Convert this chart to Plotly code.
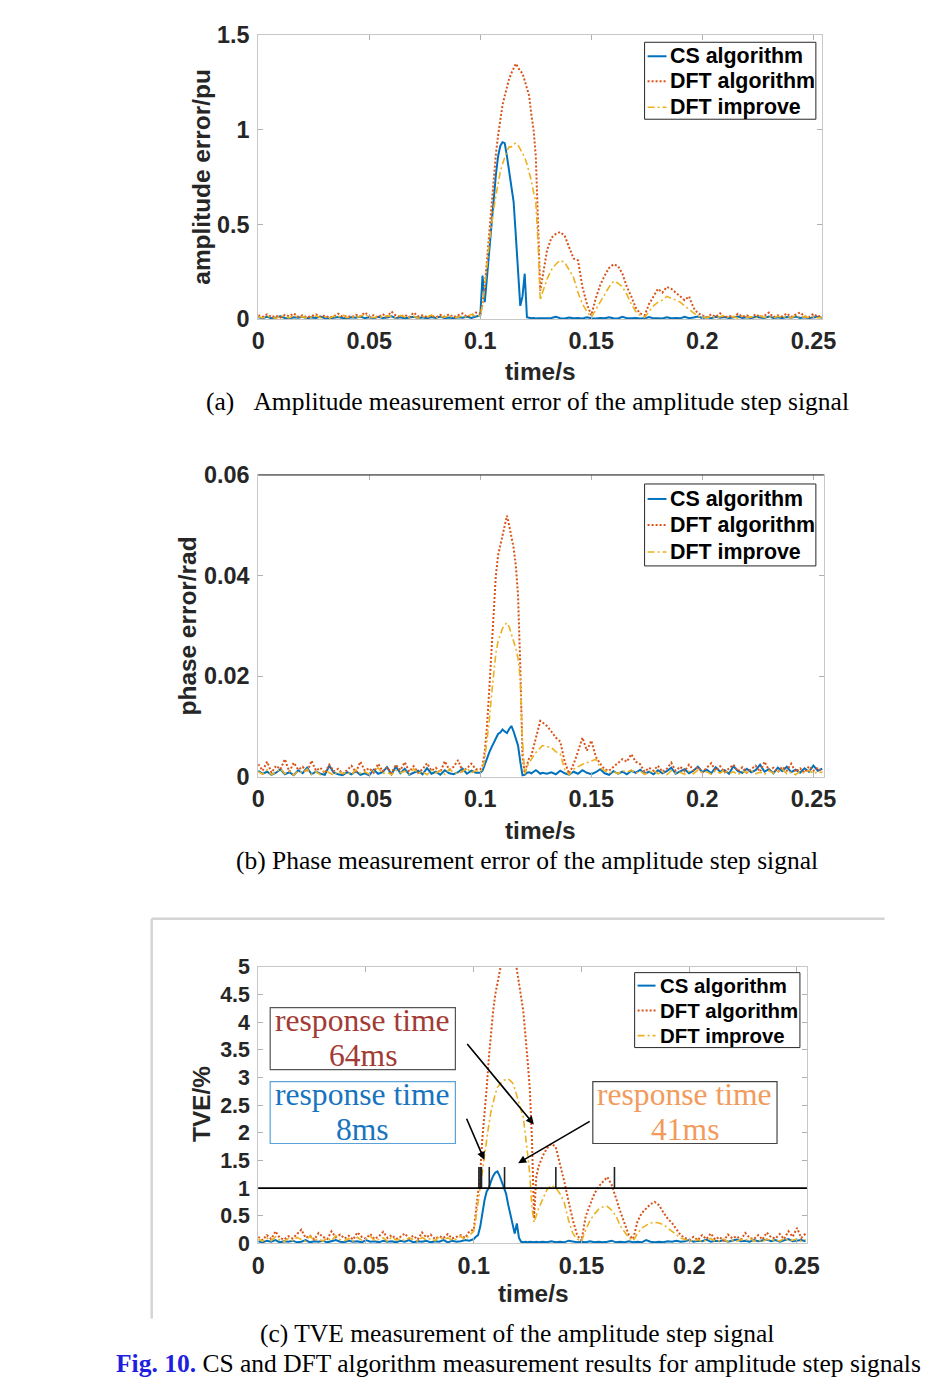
import plotly.graph_objects as go

# ---------------- time grid (s) ----------------
T = ([round(0.002 * i, 3) for i in range(50)] +
     [round(0.100 + 0.001 * i, 3) for i in range(30)] +
     [round(0.130 + 0.002 * i, 3) for i in range(63)])

# ---------------- (a) amplitude error / pu ----------------
amp_cs = [0.01,0.005,0.012,0.004,0.008,0.015,0.006,0.003,0.01,0.007,
          0.012,0.004,0.009,0.006,0.014,0.005,0.003,0.008,0.011,0.006,
          0.004,0.01,0.007,0.013,0.005,0.009,0.004,0.012,0.006,0.008,
          0.015,0.005,0.01,0.004,0.007,0.012,0.006,0.009,0.004,0.011,
          0.006,0.013,0.005,0.008,0.004,0.01,0.007,0.012,0.006,0.015,
          0.02,0.23,0.09,0.22,0.36,0.50,0.63,0.76,0.86,0.915,
          0.935,0.93,0.86,0.78,0.70,0.62,0.44,0.25,0.07,0.12,
          0.24,0.01,0.005,0.004,0.006,0.003,0.005,0.004,0.006,0.003,
          0.004,0.006,0.012,0.005,0.003,0.008,0.004,0.006,0.003,0.01,
          0.004,0.003,0.006,0.004,0.009,0.004,0.003,0.012,0.005,0.004,
          0.006,0.003,0.004,0.011,0.004,0.005,0.003,0.01,0.004,0.006,
          0.004,0.012,0.005,0.008,0.014,0.006,0.01,0.005,0.012,0.007,
          0.011,0.005,0.009,0.014,0.006,0.01,0.005,0.012,0.008,0.006,
          0.013,0.006,0.009,0.005,0.011,0.007,0.014,0.006,0.01,0.005,
          0.009,0.012,0.007]
amp_dft = [0.02,0.012,0.025,0.01,0.018,0.008,0.022,0.015,0.03,0.012,
           0.02,0.009,0.016,0.025,0.011,0.019,0.008,0.014,0.028,0.012,
           0.017,0.01,0.022,0.013,0.035,0.015,0.02,0.009,0.026,0.012,
           0.04,0.018,0.012,0.022,0.01,0.035,0.014,0.02,0.011,0.017,
           0.009,0.022,0.013,0.025,0.01,0.019,0.03,0.012,0.02,0.035,
           0.03,0.08,0.17,0.31,0.46,0.61,0.74,0.87,0.97,1.06,
           1.13,1.18,1.23,1.27,1.30,1.33,1.35,1.33,1.31,1.30,
           1.26,1.23,1.18,1.08,1.0,0.86,0.55,0.15,0.22,0.30,
           0.36,0.43,0.45,0.46,0.44,0.38,0.32,0.31,0.17,0.08,
           0.02,0.11,0.18,0.23,0.27,0.29,0.28,0.24,0.17,0.12,
           0.06,0.03,0.02,0.08,0.12,0.16,0.14,0.17,0.16,0.14,
           0.12,0.10,0.12,0.06,0.03,0.02,
           0.01,0.025,0.012,0.03,0.008,0.018,0.01,0.028,0.012,0.02,
           0.009,0.025,0.012,0.018,0.035,0.01,0.02,0.014,0.03,0.012,
           0.022,0.035,0.015,0.01,0.028,0.012,0.02]
amp_imp = [0.012,0.006,0.015,0.008,0.004,0.018,0.01,0.006,0.02,0.009,
           0.013,0.005,0.011,0.017,0.007,0.012,0.004,0.015,0.01,0.022,
           0.008,0.013,0.006,0.016,0.025,0.01,0.007,0.014,0.009,0.018,
           0.012,0.006,0.02,0.011,0.008,0.015,0.005,0.013,0.009,0.022,
           0.007,0.014,0.01,0.018,0.006,0.012,0.016,0.009,0.025,0.015,
           0.02,0.07,0.16,0.28,0.40,0.50,0.58,0.65,0.72,0.78,
           0.82,0.86,0.89,0.91,0.91,0.925,0.93,0.92,0.90,0.88,
           0.855,0.82,0.78,0.73,0.67,0.62,0.40,0.10,0.14,0.18,
           0.21,0.26,0.29,0.31,0.30,0.26,0.22,0.14,0.08,0.04,
           0.01,0.05,0.09,0.13,0.17,0.20,0.19,0.17,0.13,0.08,
           0.04,0.02,0.01,0.04,0.07,0.09,0.10,0.12,0.11,0.10,
           0.09,0.07,0.05,0.03,0.015,0.01,
           0.008,0.015,0.006,0.012,0.02,0.007,0.013,0.005,0.016,0.009,
           0.012,0.006,0.018,0.008,0.013,0.005,0.015,0.009,0.012,0.006,
           0.02,0.008,0.013,0.007,0.015,0.006,0.01]

# ---------------- (b) phase error / rad ----------------
ph_cs = [0.0012,0.0006,0.0010,0.0004,0.0008,0.0015,0.0005,0.0009,0.0003,0.0013,
         0.0007,0.0018,0.0005,0.0010,0.0006,0.0004,0.0022,0.0008,0.0005,0.0003,
         0.0009,0.0005,0.0011,0.0004,0.0007,0.0003,0.0014,0.0006,0.0009,0.0019,
         0.0005,0.0020,0.0007,0.0016,0.0004,0.0008,0.0012,0.0005,0.0017,0.0006,
         0.0010,0.0004,0.0013,0.0007,0.0005,0.0009,0.0016,0.0006,0.0012,0.0008,
         0.0008,0.0012,0.0025,0.0038,0.0048,0.0058,0.0068,0.0078,0.0085,0.0088,
         0.0094,0.0090,0.0087,0.0095,0.0101,0.0090,0.0076,0.0062,0.0030,0.0003,
         0.0004,0.0008,0.0009,0.0007,0.0010,0.0013,0.0010,0.0006,0.0008,0.0007,
         0.0006,0.0009,0.0005,0.0012,0.0007,0.0004,0.0010,0.0006,0.0013,0.0008,
         0.0005,0.0009,0.0015,0.0007,0.0004,0.0011,0.0006,0.0010,0.0005,0.0012,
         0.0008,0.0014,0.0006,0.0010,0.0005,0.0013,0.0007,0.0011,0.0018,0.0006,
         0.0010,0.0015,0.0007,0.0012,0.0020,0.0009,0.0014,0.0007,0.0019,0.0010,
         0.0013,0.0006,0.0021,0.0011,0.0008,0.0016,0.0009,0.0013,0.0024,0.0010,
         0.0015,0.0007,0.0018,0.0011,0.0020,0.0009,0.0014,0.0008,0.0017,0.0010,
         0.0022,0.0012,0.0016]
ph_dft = [0.0025,0.0012,0.0030,0.0008,0.0022,0.0015,0.0035,0.0010,0.0028,0.0014,
          0.0020,0.0009,0.0032,0.0012,0.0018,0.0007,0.0024,0.0011,0.0016,0.0006,
          0.0013,0.0022,0.0009,0.0030,0.0012,0.0017,0.0008,0.0026,0.0011,0.0019,
          0.0007,0.0024,0.0013,0.0029,0.0010,0.0021,0.0008,0.0015,0.0027,0.0012,
          0.0018,0.0009,0.0031,0.0014,0.0020,0.0033,0.0011,0.0017,0.0026,0.0015,
          0.0015,0.0022,0.0050,0.0100,0.0170,0.0250,0.0330,0.0400,0.0440,0.0460,
          0.0475,0.0500,0.0519,0.0500,0.0478,0.0455,0.0420,0.0360,0.0220,0.0040,
          0.0008,0.0025,0.0038,0.0042,0.0060,0.0078,0.0095,0.0111,0.0108,0.0104,
          0.0101,0.0090,0.0078,0.0070,0.0030,0.0006,0.0025,0.0050,0.0078,0.0052,
          0.0072,0.0040,0.0026,0.0015,0.0012,0.0020,0.0028,0.0035,0.0030,0.0045,
          0.0030,0.0025,0.0010,0.0018,0.0012,0.0022,0.0010,0.0016,0.0028,0.0012,
          0.0020,0.0011,0.0024,0.0013,0.0019,0.0009,
          0.0018,0.0027,0.0012,0.0021,0.0009,0.0016,0.0024,0.0011,0.0019,0.0008,
          0.0015,0.0022,0.0010,0.0030,0.0013,0.0018,0.0009,0.0020,0.0012,0.0026,
          0.0010,0.0017,0.0008,0.0021,0.0012,0.0018,0.0009]
ph_imp = [0.0010,0.0005,0.0014,0.0004,0.0009,0.0016,0.0006,0.0011,0.0003,0.0012,
          0.0007,0.0015,0.0005,0.0010,0.0004,0.0013,0.0008,0.0003,0.0011,0.0006,
          0.0009,0.0004,0.0014,0.0007,0.0010,0.0005,0.0012,0.0018,0.0006,0.0009,
          0.0004,0.0013,0.0008,0.0011,0.0005,0.0016,0.0007,0.0010,0.0004,0.0013,
          0.0008,0.0012,0.0005,0.0015,0.0009,0.0006,0.0011,0.0017,0.0008,0.0012,
          0.0010,0.0015,0.0035,0.0070,0.0110,0.0160,0.0205,0.0245,0.0270,0.0285,
          0.0295,0.0302,0.0306,0.0298,0.0285,0.0272,0.0255,0.0235,0.0195,0.0070,
          0.0005,0.0020,0.0028,0.0035,0.0042,0.0048,0.0053,0.0058,0.0062,0.0061,
          0.0060,0.0058,0.0050,0.0045,0.0015,0.0004,0.0015,0.0020,0.0025,0.0028,
          0.0032,0.0035,0.0018,0.0012,0.0008,0.0010,0.0006,0.0012,0.0009,0.0013,
          0.0007,0.0011,0.0005,0.0009,0.0013,0.0006,0.0010,0.0004,0.0012,0.0007,
          0.0009,0.0005,0.0011,0.0006,0.0013,0.0008,0.0010,0.0005,0.0012,0.0007,
          0.0014,0.0006,0.0010,0.0004,0.0011,0.0008,0.0013,0.0006,0.0009,0.0005,
          0.0012,0.0007,0.0010,0.0015,0.0006,0.0009,0.0004,0.0011,0.0007,0.0013,
          0.0006,0.0010,0.0008]

# ---------------- (c) TVE / % ----------------
tve_cs = [0.04,0.02,0.05,0.03,0.06,0.02,0.04,0.03,0.05,0.02,
          0.03,0.06,0.02,0.04,0.03,0.05,0.02,0.04,0.06,0.03,
          0.02,0.05,0.03,0.04,0.02,0.06,0.03,0.04,0.02,0.05,
          0.03,0.04,0.02,0.05,0.03,0.06,0.02,0.04,0.03,0.05,
          0.02,0.04,0.03,0.06,0.02,0.05,0.03,0.04,0.06,0.05,
          0.08,0.12,0.15,0.30,0.55,0.78,0.94,1.00,1.12,1.22,
          1.28,1.30,1.22,1.12,1.00,0.90,0.70,0.52,0.32,0.18,
          0.36,0.10,0.03,0.02,0.03,0.02,0.03,0.02,0.02,0.03,
          0.02,0.03,0.02,0.04,0.02,0.03,0.02,0.05,0.03,0.02,
          0.03,0.02,0.04,0.02,0.03,0.02,0.03,0.05,0.02,0.03,
          0.02,0.04,0.02,0.03,0.02,0.06,0.03,0.02,0.03,0.02,
          0.04,0.03,0.05,0.03,0.04,0.06,0.03,0.05,0.04,0.07,
          0.03,0.05,0.04,0.06,0.03,0.05,0.07,0.04,0.05,0.03,
          0.06,0.04,0.05,0.07,0.04,0.06,0.03,0.05,0.08,0.04,
          0.05,0.06,0.04]
tve_dft = [0.12,0.06,0.15,0.08,0.22,0.10,0.07,0.13,0.09,0.18,
           0.25,0.10,0.14,0.07,0.19,0.12,0.08,0.22,0.11,0.16,
           0.09,0.14,0.07,0.20,0.12,0.09,0.17,0.08,0.13,0.21,
           0.10,0.15,0.08,0.12,0.18,0.09,0.14,0.07,0.20,0.11,
           0.16,0.08,0.13,0.10,0.17,0.09,0.12,0.15,0.10,0.22,
           0.25,0.55,0.85,1.25,1.90,2.30,2.80,3.35,3.80,4.20,
           4.50,4.72,4.90,5.10,5.30,5.45,5.55,5.50,5.35,5.15,
           4.95,4.65,4.45,4.20,3.80,3.30,2.80,1.90,0.45,1.20,
           1.38,1.58,1.72,1.80,1.75,1.45,1.12,0.76,0.42,0.15,
           0.05,0.50,0.72,0.90,1.03,1.12,1.20,1.06,0.80,0.58,
           0.36,0.15,0.08,0.40,0.55,0.63,0.71,0.75,0.69,0.56,
           0.45,0.37,0.27,0.15,0.10,0.07,
           0.12,0.06,0.15,0.08,0.18,0.07,0.12,0.05,0.16,0.09,
           0.13,0.07,0.19,0.10,0.08,0.15,0.07,0.20,0.11,0.09,
           0.17,0.08,0.22,0.12,0.28,0.10,0.18]
tve_imp = [0.08,0.04,0.10,0.05,0.12,0.06,0.03,0.09,0.05,0.11,
           0.07,0.04,0.13,0.06,0.08,0.04,0.10,0.05,0.14,0.07,
           0.05,0.09,0.04,0.11,0.06,0.08,0.13,0.05,0.07,0.10,
           0.04,0.12,0.06,0.08,0.05,0.10,0.07,0.04,0.11,0.06,
           0.09,0.05,0.12,0.07,0.10,0.06,0.08,0.13,0.07,0.15,
           0.22,0.45,0.75,1.05,1.25,1.60,1.90,2.15,2.38,2.55,
           2.70,2.82,2.88,2.92,2.95,2.96,2.97,2.94,2.90,2.80,
           2.65,2.52,2.40,2.28,1.98,1.62,1.25,0.65,0.38,0.52,
           0.62,0.80,0.97,1.05,1.01,0.90,0.74,0.42,0.18,0.08,
           0.04,0.25,0.42,0.53,0.62,0.66,0.67,0.60,0.50,0.32,
           0.20,0.10,0.05,0.18,0.28,0.33,0.37,0.38,0.37,0.34,
           0.28,0.23,0.16,0.10,0.07,0.05,
           0.04,0.07,0.03,0.06,0.09,0.04,0.05,0.08,0.03,0.06,
           0.04,0.07,0.05,0.10,0.04,0.06,0.03,0.08,0.05,0.07,
           0.04,0.09,0.05,0.06,0.08,0.04,0.07]

# response-time markers on the TVE plot (s) and the 1 % threshold
TVE_LIMIT = 1.0
MARK_T = [0.1024, 0.1030, 0.1036, 0.1072, 0.1143, 0.1381, 0.1653]
MARK_TOP = 1.38

for arr in (amp_cs, amp_dft, amp_imp, ph_cs, ph_dft, ph_imp, tve_cs, tve_dft, tve_imp):
    assert len(arr) == len(T), len(arr)

NAMES = ["CS algorithm", "DFT algorithm", "DFT improve"]
COLORS = ["#0072BD", "#D95319", "#EDB120"]
DASHES = ["solid", "2px,2px", "7px,3px,2px,3px"]
WIDTHS = [2, 2, 1.6]

SANS = "Liberation Sans"
SERIF = "Liberation Serif"
W, H = 948, 1392

# the captured picture shows the page slightly reduced and offset;
# layout positions below are given in picture pixels and mapped back here
S, OX, OY = 0.982, 4.7, 11.7

def px(x):
    return ((x - OX) / S) / W

def py(y):
    return 1 - ((y - OY) / S) / H

def fs(size):
    return round(size / S, 1)

fig = go.Figure()
panels = [
    ("x", "y", [amp_cs, amp_dft, amp_imp]),
    ("x2", "y2", [ph_cs, ph_dft, ph_imp]),
    ("x3", "y3", [tve_cs, tve_dft, tve_imp]),
]
for xa, ya, series in panels:
    for k in range(3):
        fig.add_trace(go.Scatter(
            x=T, y=series[k], mode="lines", name=NAMES[k], showlegend=False,
            xaxis=xa, yaxis=ya,
            line=dict(color=COLORS[k], width=WIDTHS[k], dash=DASHES[k]),
        ))

# response-time marker ticks
mx, my = [], []
for t in MARK_T:
    mx += [t, t, None]
    my += [TVE_LIMIT, MARK_TOP, None]
fig.add_trace(go.Scatter(x=mx, y=my, mode="lines", xaxis="x3", yaxis="y3",
                         line=dict(color="#222222", width=1.6), showlegend=False,
                         hoverinfo="skip"))

tickfont = dict(family=SANS, size=fs(23), color="#262626", weight="bold")
axis_common = dict(showgrid=False, zeroline=False, ticks="inside", ticklen=5,
                   tickcolor="#b0b0b0", showline=True, linecolor="#c8c8c8",
                   linewidth=1, mirror="ticks", tickfont=tickfont)

xt = [0, 0.05, 0.1, 0.15, 0.2, 0.25]
xtt = ["0", "0.05", "0.1", "0.15", "0.2", "0.25"]

fig.update_layout(
    width=W, height=H, margin=dict(l=0, r=0, t=0, b=0),
    paper_bgcolor="white", plot_bgcolor="white", showlegend=False,
    xaxis=dict(domain=[px(257), px(823)], range=[0, 0.2538], anchor="y",
               tickvals=xt, ticktext=xtt, ticklabelstandoff=1, **axis_common),
    yaxis=dict(domain=[py(318), py(34)], range=[0, 1.5], anchor="x",
               tickvals=[0, 0.5, 1, 1.5], ticktext=["0", "0.5", "1", "1.5"],
               ticklabelstandoff=3, **axis_common),
    xaxis2=dict(domain=[px(257), px(825)], range=[0, 0.2547], anchor="y2",
                tickvals=xt, ticktext=xtt, ticklabelstandoff=1, **axis_common),
    yaxis2=dict(domain=[py(776), py(474)], range=[0, 0.06], anchor="x2",
                tickvals=[0, 0.02, 0.04, 0.06], ticktext=["0", "0.02", "0.04", "0.06"],
                ticklabelstandoff=3, **axis_common),
    xaxis3=dict(domain=[px(257), px(808)], range=[0, 0.2546], anchor="y3",
                tickvals=xt, ticktext=xtt, ticklabelstandoff=1, **axis_common),
    yaxis3=dict(domain=[py(1243), py(966)], range=[0, 5], anchor="x3",
                tickvals=[i * 0.5 for i in range(11)],
                ticktext=["0", "0.5", "1", "1.5", "2", "2.5", "3", "3.5", "4", "4.5", "5"],
                ticklabelstandoff=3, **dict(axis_common, tickfont=dict(tickfont, size=fs(21)))),
)

shapes = [
    dict(type="line", xref="x3 domain", yref="y3", x0=0, x1=1, y0=TVE_LIMIT, y1=TVE_LIMIT,
         line=dict(color="black", width=1.6)),
    dict(type="line", xref="x2 domain", yref="y2 domain", x0=0, x1=1, y0=1, y1=1,
         line=dict(color="#262626", width=1.2)),
    dict(type="line", xref="paper", yref="paper", x0=px(150), x1=px(150), y0=py(918), y1=py(1318),
         line=dict(color="#d4d4d4", width=2.5)),
    dict(type="line", xref="paper", yref="paper", x0=px(150), x1=px(886), y0=py(918), y1=py(918),
         line=dict(color="#d4d4d4", width=2.5)),
]

ann = []

# legends (box, sample lines, labels)
legends = [
    # (left, top, right, bottom, line x0, line x1, text x, row ys, font size)
    (645, 41, 817, 118, 648, 667, 669, [55, 80, 106], 21),
    (645, 483, 817, 565, 648, 667, 669, [498, 524, 551], 21),
    (635, 972, 801, 1047, 638, 656, 658, [985, 1010, 1035], 20),
]
for l, t, r, b, lx0, lx1, tx, rows, fsz in legends:
    shapes.append(dict(type="rect", xref="paper", yref="paper", x0=px(l), x1=px(r), y0=py(b), y1=py(t),
                       line=dict(color="#262626", width=1), fillcolor="white", layer="above"))
    for k in range(3):
        shapes.append(dict(type="line", xref="paper", yref="paper", x0=px(lx0), x1=px(lx1),
                           y0=py(rows[k]), y1=py(rows[k]), layer="above",
                           line=dict(color=COLORS[k], width=WIDTHS[k], dash=DASHES[k])))
        ann.append(dict(text=NAMES[k], x=px(tx), y=py(rows[k]), xref="paper", yref="paper",
                        showarrow=False, xanchor="left", yanchor="middle",
                        font=dict(family=SANS, size=fs(fsz), color="black", weight="bold")))

# text boxes in panel (c)
boxes = [
    # (left, top, right, bottom, lines, line ys, text colour, border colour)
    (269, 1007, 455, 1069, ["response time", "64ms"], [1020, 1055], "#A23B34", "#555555"),
    (269, 1081, 455, 1143, ["response time", "8ms"], [1094, 1129], "#1874BE", "#5AA2D8"),
    (593, 1081, 778, 1143, ["response time", "41ms"], [1094, 1129], "#F29B5C", "#444444"),
]
for l, t, r, b, lines, ys, col, bcol in boxes:
    shapes.append(dict(type="rect", xref="paper", yref="paper", x0=px(l), x1=px(r), y0=py(b), y1=py(t),
                       line=dict(color=bcol, width=1.2), fillcolor="white", layer="above"))
    for txt, yy in zip(lines, ys):
        ann.append(dict(text=txt, x=px((l + r) / 2), y=py(yy), xref="paper", yref="paper",
                        showarrow=False, xanchor="center", yanchor="middle",
                        font=dict(family=SERIF, size=fs(31), color=col)))

fig.update_layout(shapes=shapes)

title_font = dict(family=SANS, size=fs(24), color="#262626", weight="bold")
cap_font = dict(family=SERIF, size=fs(25), color="black")
other = []
other.append(dict(text="amplitude error/pu", x=px(200), y=py(176), textangle=-90, font=title_font))
other.append(dict(text="phase error/rad", x=px(186), y=py(625), textangle=-90, font=title_font))
other.append(dict(text="TVE/%", x=px(200), y=py(1103), textangle=-90, font=title_font))
other.append(dict(text="time/s", x=px(540), y=py(370), font=title_font))
other.append(dict(text="time/s", x=px(540), y=py(830), font=title_font))
other.append(dict(text="time/s", x=px(533), y=py(1293), font=title_font))
other.append(dict(text="(a)\u00a0\u00a0\u00a0Amplitude measurement error of the amplitude step signal",
                  x=px(527), y=py(400), font=cap_font))
other.append(dict(text="(b) Phase measurement error of the amplitude step signal",
                  x=px(527), y=py(860), font=cap_font))
other.append(dict(text="(c) TVE measurement of the amplitude step signal",
                  x=px(517), y=py(1333), font=cap_font))
other.append(dict(text="<b><span style='color:#1f1fe0'>Fig. 10.</span></b> CS and DFT algorithm measurement results for amplitude step signals",
                  x=px(518), y=py(1363), font=cap_font))
for a in other:
    a.update(xref="paper", yref="paper", showarrow=False, xanchor="center", yanchor="middle")
ann += other

# arrows in panel (c) (head, tail in data coordinates)
arrows = [
    ((0.1049, 1.51), (0.0964, 2.28)),
    ((0.1279, 2.15), (0.0964, 3.63)),
    ((0.1206, 1.45), (0.1545, 2.22)),
]
for (hx, hy), (tx, ty) in arrows:
    ann.append(dict(x=hx, y=hy, ax=tx, ay=ty, xref="x3", yref="y3", axref="x3", ayref="y3",
                    text="", showarrow=True, arrowhead=2, arrowsize=1, arrowwidth=1.6,
                    arrowcolor="black"))

fig.update_layout(annotations=ann)
fig.write_html("out.html", config={"displayModeBar": False},
               post_script="document.body.style.margin='0';document.body.style.padding='0';document.body.style.overflow='hidden';")
